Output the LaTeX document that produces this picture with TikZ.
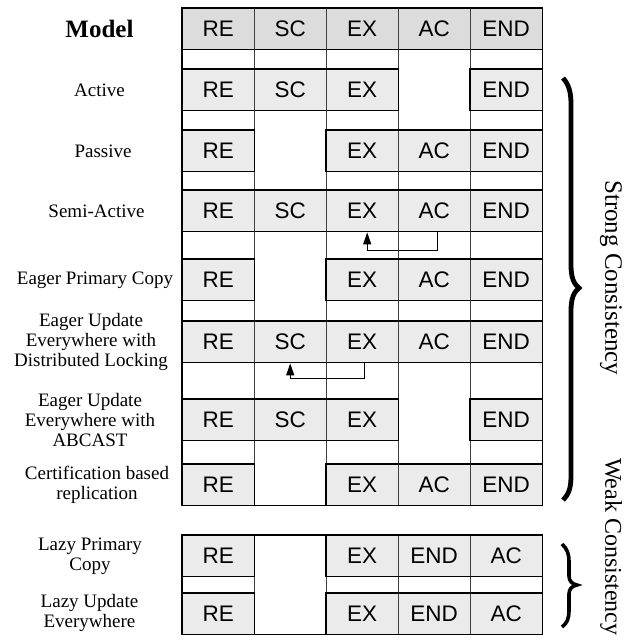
\documentclass[tikz,border=0pt]{standalone}
\usepackage{fontspec}
\setmainfont{Liberation Serif}
\newfontfamily\cellfont{Liberation Sans}
\usetikzlibrary{arrows.meta}
\definecolor{cellgray}{HTML}{EBEBEB}
\definecolor{headgray}{HTML}{DCDCDC}
\definecolor{gridgray}{HTML}{404040}
\begin{document}
\begin{tikzpicture}[x=1pt,y=-1pt,
  cell/.style={minimum width=72pt,minimum height=41pt,inner sep=0pt,anchor=north west,fill=cellgray,font=\cellfont\fontsize{22.5}{22.5}\selectfont},
  hcell/.style={cell,fill=headgray},
  grp/.style={draw=black,line width=1.3pt},
  gridln/.style={draw=gridgray,line width=1pt},
  lbl/.style={font=\fontsize{19}{20}\selectfont,align=center,inner sep=0pt},
  side/.style={font=\fontsize{25}{25}\selectfont,rotate=-90,inner sep=0pt,anchor=west},
  bracepath/.style={line width=4.8pt},
  smallbrace/.style={line width=3.6pt},
  flow/.style={line width=1pt,-{Triangle[length=12pt,width=8pt]},shorten >=1pt}]
\useasboundingbox (0,0) rectangle (633,642);
% header
\node[hcell] (h1) at (182,8) {RE};
\node[hcell] (h2) at (254,8) {SC};
\node[hcell] (h3) at (326,8) {EX};
\node[hcell] (h4) at (398,8) {AC};
\node[hcell] (h5) at (470,8) {END};
% active
\node[cell] (a1) at (182,69) {RE};
\node[cell] (a2) at (254,69) {SC};
\node[cell] (a3) at (326,69) {EX};
\node[cell] (a5) at (470,69) {END};
% passive
\node[cell] (p1) at (182,130) {RE};
\node[cell] (p3) at (326,130) {EX};
\node[cell] (p4) at (398,130) {AC};
\node[cell] (p5) at (470,130) {END};
% semi-active
\node[cell] (s1) at (182,190) {RE};
\node[cell] (s2) at (254,190) {SC};
\node[cell] (s3) at (326,190) {EX};
\node[cell] (s4) at (398,190) {AC};
\node[cell] (s5) at (470,190) {END};
% eager primary copy
\node[cell] (e1) at (182,259) {RE};
\node[cell] (e3) at (326,259) {EX};
\node[cell] (e4) at (398,259) {AC};
\node[cell] (e5) at (470,259) {END};
% eager update everywhere, distributed locking
\node[cell] (d1) at (182,321) {RE};
\node[cell] (d2) at (254,321) {SC};
\node[cell] (d3) at (326,321) {EX};
\node[cell] (d4) at (398,321) {AC};
\node[cell] (d5) at (470,321) {END};
% eager update everywhere, abcast
\node[cell] (b1) at (182,399) {RE};
\node[cell] (b2) at (254,399) {SC};
\node[cell] (b3) at (326,399) {EX};
\node[cell] (b5) at (470,399) {END};
% certification
\node[cell] (c1) at (182,464) {RE};
\node[cell] (c3) at (326,464) {EX};
\node[cell] (c4) at (398,464) {AC};
\node[cell] (c5) at (470,464) {END};
% lazy primary copy
\node[cell] (l1) at (182,535) {RE};
\node[cell] (l3) at (326,535) {EX};
\node[cell] (l4) at (398,535) {END};
\node[cell] (l5) at (470,535) {AC};
% lazy update everywhere
\node[cell] (u1) at (182,593) {RE};
\node[cell] (u3) at (326,593) {EX};
\node[cell] (u4) at (398,593) {END};
\node[cell] (u5) at (470,593) {AC};
% grid lines
\foreach \n in {h1,h2,h3,h4}{
  \draw[gridln] (\n.north east) -- (\n.north east |- c5.south east);
}
\foreach \n in {l1,l3,l4}{
  \draw[gridln] (\n.north east) -- (\n.north east |- u5.south east);
}
\draw[gridln] (l1.north east -| h2.north east) -- (u1.south east -| h2.north east);
% group outlines
\draw[grp] (h1.north west) rectangle (h5.south east);
\draw[grp] (a1.north west) rectangle (a3.south east);
\draw[grp] (a5.north west) rectangle (a5.south east);
\draw[grp] (p1.north west) rectangle (p1.south east);
\draw[grp] (p3.north west) rectangle (p5.south east);
\draw[grp] (s1.north west) rectangle (s5.south east);
\draw[grp] (e1.north west) rectangle (e1.south east);
\draw[grp] (e3.north west) rectangle (e5.south east);
\draw[grp] (d1.north west) rectangle (d5.south east);
\draw[grp] (b1.north west) rectangle (b3.south east);
\draw[grp] (b5.north west) rectangle (b5.south east);
\draw[grp] (c1.north west) rectangle (c1.south east);
\draw[grp] (c3.north west) rectangle (c5.south east);
\draw[grp] (l1.north west) rectangle (l1.south east);
\draw[grp] (l3.north west) rectangle (l5.south east);
\draw[grp] (u1.north west) rectangle (u1.south east);
\draw[grp] (u3.north west) rectangle (u5.south east);
% block outlines
\draw[grp] (h1.north west) rectangle (c5.south east);
\draw[grp] (l1.north west) rectangle (u5.south east);
% flow arrows
\draw[flow] ([xshift=3pt]s4.south) -- ++(0,19) -| ([xshift=5pt]s3.south);
\draw[flow] ([xshift=2pt]d3.south) -- ++(0,16) -| (d2.south);
% labels
\node[lbl,font=\fontsize{25}{25}\selectfont\bfseries] (tModel) at (99.5,29) {Model};
\node[lbl] (tA) at (99.5,90) {Active};
\node[lbl] (tP) at (103,151) {Passive};
\node[lbl] (tS) at (96.5,211) {Semi-Active};
\node[lbl] (tE) at (95,280) {Eager Primary Copy};
\node[lbl] (tD) at (91,342) {Eager Update\\Everywhere with\\Distributed Locking};
\node[lbl] (tB) at (90,420) {Eager Update\\Everywhere with\\ABCAST};
\node[lbl] (tC) at (97,485) {Certification based\\replication};
\node[lbl] (tL) at (90,556) {Lazy Primary\\Copy};
\node[lbl] (tU) at (89.5,613) {Lazy Update\\Everywhere};
% braces
\draw[bracepath] (563,78) .. controls (569,85) and (571,92) .. (571,105) -- (571,265)
  .. controls (571,278) and (574,284) .. (579,288)
  .. controls (574,292) and (571,298) .. (571,311) -- (571,475)
  .. controls (571,488) and (569,494) .. (563,500);
\draw[smallbrace] (562,544) .. controls (567,549) and (569,553) .. (569,562) -- (569,576)
  .. controls (569,581) and (572,584) .. (577,585)
  .. controls (572,586) and (569,589) .. (569,594) -- (569,610)
  .. controls (569,619) and (567,623) .. (562,627);
% side texts
\node[side] (tStrong) at (611,180) {Strong Consistency};
\node[side,font=\fontsize{24}{24}\selectfont] (tWeak) at (611,458) {Weak Consistency};
\end{tikzpicture}
\end{document}
